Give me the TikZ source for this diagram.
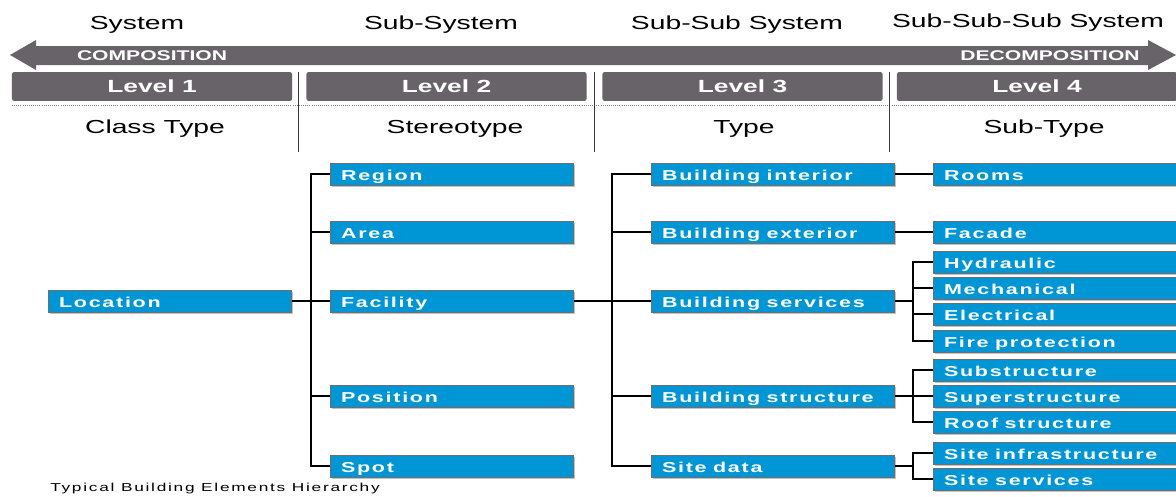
\documentclass[tikz,border=0pt]{standalone}
\usepackage{fontspec}
\usepackage{xcolor}
\usepackage{tikz}
\usetikzlibrary{shadows}
\setmainfont{Liberation Sans}[FakeStretch=1.5]
\newfontfamily\boxfont{Liberation Sans}[FakeStretch=1.5,LetterSpace=12]
\newfontfamily\notefont{Liberation Sans}[FakeStretch=1.5,LetterSpace=15]
\definecolor{bar}{HTML}{676368}
\definecolor{elem}{HTML}{0096D6}
\definecolor{rim}{HTML}{6E6E6E}
\definecolor{sep}{HTML}{3A3A3A}
\tikzset{
  head/.style={font=\fontsize{13.4}{15}\selectfont, text=black, inner sep=0pt},
  levelbar/.style={fill=bar, rounded corners=1.5pt, minimum width=7cm, minimum height=0.72cm,
    text=white, font=\fontsize{12.5}{14}\selectfont\bfseries, inner sep=0pt},
  flow/.style={text=white, font=\fontsize{10}{12}\selectfont\bfseries, inner sep=0pt},
  elm/.style={
    draw=rim, line width=0.7pt, fill=elem,
    drop shadow={shadow xshift=1.2pt, shadow yshift=-1.2pt, opacity=0.4, fill=black!60},
    text=white, font=\boxfont\fontsize{10.2}{11}\selectfont\bfseries,
    text width=6.075cm-15pt, inner xsep=7.5pt, inner ysep=0pt,
    minimum height=0.55cm, align=flush left, anchor=west,
    execute at begin node={\spaceskip=4.6pt\relax},
    text height=10.5pt, text depth=1pt
  },
  link/.style={draw=black, line width=1.3pt, line join=miter},
  divider/.style={draw=sep, line width=0.6pt}
}

\begin{document}
\begin{tikzpicture}[x=0.025cm, y=-0.025cm]
  \useasboundingbox (0,0) rectangle (1176,496);

  % header row
  \node[head] (sys)   at (137,25) {System};
  \node[head] (sub)   at (441,25) {Sub-System};
  \node[head] (subb)  at (737,25) {Sub-Sub System};
  \node[head] (subbb) at (1028,23) {Sub-Sub-Sub System};

  \fill[bar] (10,55) -- (36,40) -- (36,46) -- (1148,46) -- (1148,40)
    -- (1176,55) -- (1148,70) -- (1148,65) -- (36,65) -- (36,70) -- cycle;
  \node[flow] (comp)   at (152,55.5) {COMPOSITION};
  \node[flow] (decomp) at (1050,55.5) {DECOMPOSITION};

  \node[levelbar] (lv1) at (152,86.5)  {Level 1};
  \node[levelbar] (lv2) at (446.5,86.5) {Level 2};
  \node[levelbar] (lv3) at (742.5,86.5) {Level 3};
  \node[levelbar] (lv4) at (1037,86.5) {Level 4};

  \draw[gray, densely dotted, line width=0.5pt] (12,105) -- (1176,105);
  \draw[divider] (298,72) -- (298,152);
  \draw[divider] (594,72) -- (594,152);
  \draw[divider] (889,72) -- (889,152);

  \node[head] (ct) at (155,129) {Class Type};
  \node[head] (st) at (455,129) {Stereotype};
  \node[head] (ty) at (744,129) {Type};
  \node[head] (sb) at (1044,129) {Sub-Type};

  % level 1 and 2
  \node[elm] (loc)  at (48,301)  {Location};
  \node[elm] (reg)  at (330,174) {Region};
  \node[elm] (area) at (330,232) {Area};
  \node[elm] (fac)  at (330,301) {Facility};
  \node[elm] (pos)  at (330,396) {Position};
  \node[elm] (spot) at (330,466) {Spot};

  % level 3
  \node[elm] (bint) at (651,174) {Building interior};
  \node[elm] (bext) at (651,232) {Building exterior};
  \node[elm] (bsrv) at (651,301) {Building services};
  \node[elm] (bstr) at (651,396) {Building structure};
  \node[elm] (site) at (651,466) {Site data};

  % level 4
  \node[elm] (room) at (933,174) {Rooms};
  \node[elm] (faca) at (933,232) {Facade};
  \node[elm] (hydr) at (933,262) {Hydraulic};
  \node[elm] (mech) at (933,288) {Mechanical};
  \node[elm] (elec) at (933,314) {Electrical};
  \node[elm] (fire) at (933,341) {Fire protection};
  \node[elm] (sstr) at (933,370) {Substructure};
  \node[elm] (pstr) at (933,396) {Superstructure};
  \node[elm] (roof) at (933,422) {Roof structure};
  \node[elm] (sinf) at (933,453) {Site infrastructure};
  \node[elm] (ssrv) at (933,479) {Site services};

  % buses
  \coordinate (b2) at (311,0);
  \coordinate (b3) at (612,0);
  \coordinate (b4) at (913,0);

  \draw[link] (loc.east) -- (fac.west);
  \draw[link] (reg.west) -- (b2 |- reg.west) -- (b2 |- spot.west) -- (spot.west);
  \foreach \n in {area,pos} \draw[link] (b2 |- \n.west) -- (\n.west);

  \draw[link] (fac.east) -- (bsrv.west);
  \draw[link] (bint.west) -- (b3 |- bint.west) -- (b3 |- site.west) -- (site.west);
  \foreach \n in {bext,bstr} \draw[link] (b3 |- \n.west) -- (\n.west);

  \draw[link] (bint.east) -- (room.west);
  \draw[link] (bext.east) -- (faca.west);

  \draw[link] (hydr.west) -- (b4 |- hydr.west) -- (b4 |- fire.west) -- (fire.west);
  \foreach \n in {mech,elec} \draw[link] (b4 |- \n.west) -- (\n.west);
  \draw[link] (bsrv.east) -- (b4 |- bsrv.east);

  \draw[link] (sstr.west) -- (b4 |- sstr.west) -- (b4 |- roof.west) -- (roof.west);
  \draw[link] (bstr.east) -- (pstr.west);

  \draw[link] (sinf.west) -- (b4 |- sinf.west) -- (b4 |- ssrv.west) -- (ssrv.west);
  \draw[link] (site.east) -- (b4 |- site.east);

  \node[font=\notefont\fontsize{8.2}{10}\selectfont, anchor=west, inner sep=0pt] (cap)
    at (50,489) {Typical Building Elements Hierarchy};
\end{tikzpicture}
\end{document}
